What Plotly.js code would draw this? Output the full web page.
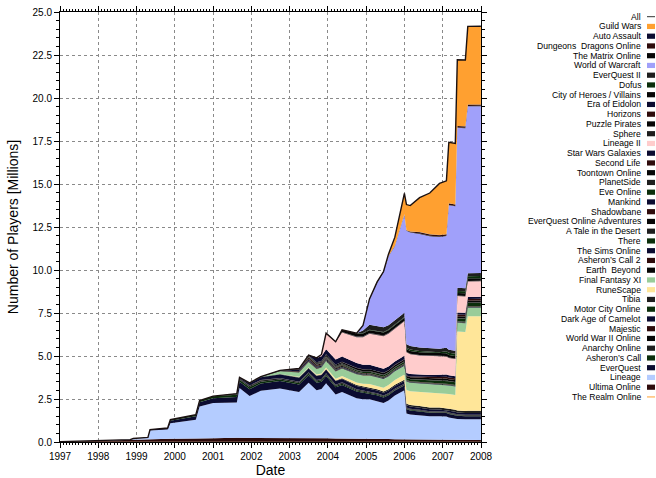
<!DOCTYPE html>
<html><head><meta charset="utf-8">
<script src="https://cdn.plot.ly/plotly-3.0.1.min.js"></script>
<style>html,body{margin:0;padding:0;background:#fff;}#chart{width:656px;height:478px;}</style>
</head><body><div id="chart"></div>
<script>
const dates = ['1997-01-01','1998-01-01','1998-11-01','1998-12-01','1999-04-20','1999-05-10','1999-10-25','1999-11-20','2000-07-20','2000-08-25',
 '2001-01-01','2001-08-15','2001-09-10','2001-12-15','2002-04-01','2002-10-01','2003-04-01','2003-07-01','2003-09-15','2003-11-01',
 '2003-12-15','2004-03-15','2004-05-15','2004-10-01','2004-12-01','2005-02-01','2005-04-15','2005-06-15','2005-08-01','2005-10-01',
 '2005-12-31','2006-01-20','2006-02-25','2006-05-25','2006-08-30','2006-12-01','2007-02-05','2007-02-28','2007-05-01','2007-05-20',
 '2007-08-05','2007-08-28','2007-12-31'];

const theRealmOnline = [0.02,0.02,0.02,0.02,0.02,0.02,0.02,0.02,0.02,0.02, 0.02,0.02,0.02,0.02,0.02,0.02,0.02,0.02,0.01,0.01, 0.01,0.01,0.01,0.01,0.01,0.01,0.01,0.01,0.01,0.01, 0.01,0.01,0.01,0.01,0.01,0.01,0.01,0.01,0.01,0.01, 0.01,0.01,0.01];
const ultimaOnline = [0,0.07,0.12,0.13,0.14,0.15,0.16,0.17,0.18,0.19, 0.2,0.22,0.22,0.23,0.24,0.24,0.24,0.23,0.22,0.22, 0.21,0.2,0.2,0.19,0.18,0.17,0.17,0.16,0.16,0.15, 0.15,0.15,0.14,0.14,0.13,0.13,0.12,0.12,0.12,0.12, 0.11,0.11,0.11];
const lineage = [0,0,0,0.05,0.1,0.5,0.55,0.9,1.1,1.85, 2.05,2.05,2.9,2.42,2.72,2.85,2.65,3.2,2.78,2.85, 3.2,2.55,2.7,2.35,2.3,2.3,2.2,2.1,2.25,2.55, 2.85,1.5,1.45,1.4,1.35,1.35,1.35,1.3,1.25,1.2, 1.2,1.2,1.2];
const everQuest = [0,0,0,0,0,0.05,0.08,0.15,0.2,0.25, 0.28,0.33,0.36,0.4,0.42,0.43,0.43,0.43,0.43,0.43, 0.42,0.42,0.41,0.39,0.38,0.36,0.34,0.32,0.3,0.28, 0.27,0.24,0.23,0.22,0.21,0.2,0.2,0.2,0.19,0.19, 0.18,0.18,0.18];
const asheronsCall = [0,0,0,0,0,0,0,0.05,0.08,0.1, 0.11,0.12,0.12,0.12,0.11,0.1,0.09,0.09,0.08,0.08, 0.08,0.07,0.07,0.06,0.06,0.05,0.05,0.05,0.05,0.04, 0.04,0.04,0.04,0.04,0.03,0.03,0.03,0.03,0.03,0.03, 0.03,0.03,0.03];
const anarchyOnline = [0,0,0,0,0,0,0,0,0,0, 0,0.03,0.05,0.06,0.06,0.06,0.06,0.06,0.06,0.06, 0.06,0.06,0.06,0.05,0.05,0.05,0.05,0.05,0.05,0.05, 0.05,0.04,0.04,0.04,0.04,0.04,0.04,0.04,0.04,0.04, 0.04,0.04,0.04];
const worldWarIIOnline = [0,0,0,0,0,0,0,0,0,0, 0,0.03,0.03,0.03,0.02,0.02,0.02,0.02,0.02,0.02, 0.02,0.02,0.02,0.02,0.02,0.02,0.02,0.02,0.02,0.02, 0.02,0.02,0.02,0.02,0.02,0.02,0.02,0.02,0.02,0.02, 0.02,0.02,0.02];
const majestic = [0,0,0,0,0,0,0,0,0,0, 0,0.01,0.01,0.01,0.01,0,0,0,0,0, 0,0,0,0,0,0,0,0,0,0, 0,0,0,0,0,0,0,0,0,0, 0,0,0];
const darkAgeOfCamelot = [0,0,0,0,0,0,0,0,0,0, 0,0,0.03,0.12,0.17,0.2,0.22,0.23,0.23,0.22, 0.22,0.21,0.2,0.19,0.18,0.17,0.16,0.16,0.15,0.15, 0.15,0.13,0.13,0.12,0.12,0.11,0.1,0.1,0.1,0.1, 0.09,0.09,0.09];
const motorCityOnline = [0,0,0,0,0,0,0,0,0,0, 0,0,0.01,0.02,0.02,0.02,0.02,0.02,0.01,0, 0,0,0,0,0,0,0,0,0,0, 0,0,0,0,0,0,0,0,0,0, 0,0,0];
const tibia = [0,0,0,0,0,0,0,0,0,0, 0,0,0,0,0.01,0.01,0.02,0.02,0.03,0.03, 0.03,0.04,0.04,0.05,0.05,0.06,0.06,0.07,0.07,0.08, 0.08,0.09,0.09,0.1,0.1,0.11,0.11,0.12,0.12,0.12, 0.12,0.13,0.13];
const runeScape = [0,0,0,0,0,0,0,0,0,0, 0,0,0,0,0,0.01,0.02,0.03,0.05,0.06, 0.08,0.1,0.12,0.15,0.16,0.18,0.2,0.22,0.25,0.28, 0.3,0.8,0.8,0.82,0.85,0.85,0.85,0.85,0.85,4.6, 4.6,5.5,5.5];
const finalFantasyXI = [0,0,0,0,0,0,0,0,0,0, 0,0,0,0,0,0.15,0.25,0.3,0.33,0.35, 0.38,0.42,0.45,0.48,0.48,0.5,0.5,0.5,0.5,0.5, 0.52,0.5,0.5,0.5,0.5,0.5,0.5,0.5,0.5,0.5, 0.5,0.5,0.5];
const earthBeyond = [0,0,0,0,0,0,0,0,0,0, 0,0,0,0,0,0.03,0.03,0.03,0.02,0.02, 0.02,0.02,0.02,0.01,0,0,0,0,0,0, 0,0,0,0,0,0,0,0,0,0, 0,0,0];
const asheronsCall2 = [0,0,0,0,0,0,0,0,0,0, 0,0,0,0,0,0.02,0.05,0.04,0.04,0.03, 0.03,0.03,0.02,0.02,0.02,0.02,0.02,0.01,0.01,0.01, 0,0,0,0,0,0,0,0,0,0, 0,0,0];
const theSimsOnline = [0,0,0,0,0,0,0,0,0,0, 0,0,0,0,0,0,0.08,0.07,0.06,0.06, 0.05,0.05,0.04,0.04,0.03,0.03,0.03,0.03,0.03,0.03, 0.03,0.02,0.02,0.02,0.02,0.02,0.02,0.02,0.02,0.02, 0.02,0.02,0.02];
const there = [0,0,0,0,0,0,0,0,0,0, 0,0,0,0,0,0,0,0,0,0.01, 0.015,0.015,0.015,0.015,0.015,0.015,0.015,0.015,0.015,0.015, 0.015,0.015,0.015,0.015,0.015,0.015,0.015,0.015,0.015,0.015, 0.015,0.015,0.015];
const aTaleInTheDesert = [0,0,0,0,0,0,0,0,0,0, 0,0,0,0,0,0,0.005,0.005,0.005,0.005, 0.005,0.005,0.005,0.005,0.005,0.005,0.005,0.005,0.005,0.005, 0.005,0.005,0.005,0.005,0.005,0.005,0.005,0.005,0.005,0.005, 0.005,0.005,0.005];
const everQuestOnlineAdventures = [0,0,0,0,0,0,0,0,0,0, 0,0,0,0,0,0,0.03,0.05,0.05,0.05, 0.05,0.05,0.05,0.04,0.04,0.04,0.04,0.04,0.04,0.04, 0.04,0.02,0.02,0.02,0.02,0.02,0.02,0.02,0.02,0.02, 0.02,0.02,0.02];
const shadowbane = [0,0,0,0,0,0,0,0,0,0, 0,0,0,0,0,0,0.03,0.08,0.07,0.06, 0.05,0.05,0.04,0.03,0.03,0.03,0.03,0.03,0.03,0.03, 0.03,0.02,0.02,0.02,0.02,0.02,0.02,0.02,0.02,0.02, 0.02,0.02,0.02];
const mankind = [0,0,0,0,0.005,0.005,0.005,0.005,0.005,0.005, 0.005,0.005,0.005,0.005,0.005,0.005,0.005,0.005,0.005,0.005, 0.005,0.005,0.005,0.005,0.005,0.005,0.005,0.005,0.005,0.005, 0.005,0.005,0.005,0.005,0.005,0.005,0.005,0.005,0.005,0.005, 0.005,0.005,0.005];
const eveOnline = [0,0,0,0,0,0,0,0,0,0, 0,0,0,0,0,0,0,0.02,0.03,0.03, 0.04,0.04,0.05,0.06,0.06,0.07,0.07,0.08,0.08,0.09, 0.1,0.11,0.11,0.12,0.13,0.14,0.15,0.15,0.16,0.17, 0.18,0.19,0.2];
const planetSide = [0,0,0,0,0,0,0,0,0,0, 0,0,0,0,0,0,0,0.05,0.06,0.05, 0.05,0.05,0.05,0.04,0.04,0.04,0.04,0.03,0.03,0.03, 0.03,0.02,0.02,0.02,0.02,0.02,0.02,0.02,0.02,0.02, 0.02,0.02,0.02];
const toontownOnline = [0,0,0,0,0,0,0,0,0,0, 0,0,0,0,0,0,0,0.02,0.04,0.05, 0.06,0.07,0.08,0.1,0.1,0.1,0.1,0.1,0.1,0.1, 0.1,0.1,0.1,0.1,0.1,0.1,0.11,0.11,0.11,0.11, 0.11,0.11,0.11];
const secondLife = [0,0,0,0,0,0,0,0,0,0, 0,0,0,0,0,0,0,0.005,0.01,0.01, 0.01,0.01,0.01,0.01,0.01,0.01,0.02,0.02,0.02,0.02, 0.02,0.03,0.04,0.05,0.06,0.08,0.1,0.1,0.1,0.1, 0.1,0.1,0.1];
const starWarsGalaxies = [0,0,0,0,0,0,0,0,0,0, 0,0,0,0,0,0,0,0.03,0.25,0.28, 0.3,0.3,0.3,0.28,0.27,0.26,0.24,0.23,0.22,0.2, 0.2,0.15,0.15,0.14,0.14,0.13,0.13,0.13,0.12,0.12, 0.12,0.12,0.12];
const lineageII = [0,0,0,0,0,0,0,0,0,0, 0,0,0,0,0,0,0,0,0,0.1, 0.9,1.0,1.4,1.5,1.6,1.8,1.85,1.9,1.9,1.9, 2.0,1.2,1.15,1.1,1.1,1.05,1.05,1.0,1.0,0.95, 0.95,0.9,0.9];
const sphere = [0,0,0,0,0,0,0,0,0,0, 0,0,0,0,0,0,0,0,0,0, 0.005,0.005,0.005,0.005,0.005,0.005,0.005,0.005,0.005,0.005, 0.005,0.005,0.005,0.005,0.005,0.005,0.005,0.005,0.005,0.005, 0.005,0.005,0.005];
const puzzlePirates = [0,0,0,0,0,0,0,0,0,0, 0,0,0,0,0,0,0,0,0,0, 0.01,0.01,0.01,0.01,0.01,0.01,0.01,0.01,0.01,0.01, 0.01,0.01,0.01,0.01,0.01,0.01,0.01,0.01,0.01,0.01, 0.01,0.01,0.01];
const horizons = [0,0,0,0,0,0,0,0,0,0, 0,0,0,0,0,0,0,0,0,0, 0.02,0.02,0.015,0.015,0.015,0.015,0.015,0.015,0.015,0.015, 0.015,0.01,0.01,0.01,0.01,0.01,0.01,0.01,0.01,0.01, 0.01,0.01,0.01];
const eraOfEidolon = [0,0,0,0,0,0,0,0,0,0, 0,0,0,0,0,0,0,0,0,0, 0,0,0.005,0.005,0.005,0.005,0.005,0.005,0.005,0.005, 0.005,0.005,0.005,0.005,0.005,0.005,0.005,0.005,0.005,0.005, 0.005,0.005,0.005];
const cityOfHeroes = [0,0,0,0,0,0,0,0,0,0, 0,0,0,0,0,0,0,0,0,0, 0,0,0.12,0.18,0.18,0.17,0.17,0.17,0.17,0.17, 0.17,0.16,0.16,0.16,0.16,0.16,0.15,0.15,0.15,0.15, 0.15,0.15,0.15];
const dofus = [0,0,0,0,0,0,0,0,0,0, 0,0,0,0,0,0,0,0,0,0, 0,0,0,0.01,0.02,0.02,0.03,0.03,0.04,0.04, 0.05,0.08,0.08,0.08,0.08,0.08,0.12,0.12,0.12,0.12, 0.12,0.12,0.12];
const everQuestII = [0,0,0,0,0,0,0,0,0,0, 0,0,0,0,0,0,0,0,0,0, 0,0,0,0,0.15,0.3,0.3,0.28,0.25,0.25, 0.25,0.2,0.2,0.2,0.2,0.2,0.2,0.18,0.18,0.18, 0.18,0.18,0.18];
const worldOfWarcraft = [0,0,0,0,0,0,0,0,0,0, 0,0,0,0,0,0,0,0,0,0, 0,0,0,0,0.3,1.5,2.5,3.2,4.0,4.3, 5.7,6.6,6.6,6.6,6.5,6.5,6.5,8.4,8.4,9.3, 9.3,9.7,9.7];
const theMatrixOnline = [0,0,0,0,0,0,0,0,0,0, 0,0,0,0,0,0,0,0,0,0, 0,0,0,0,0,0,0.05,0.04,0.03,0.03, 0.03,0.02,0.02,0.02,0.02,0.02,0.02,0.02,0.02,0.02, 0.02,0.02,0.02];
const dungeonsDragonsOnline = [0,0,0,0,0,0,0,0,0,0, 0,0,0,0,0,0,0,0,0,0, 0,0,0,0,0,0,0,0,0,0, 0,0,0.05,0.08,0.08,0.08,0.08,0.08,0.08,0.08, 0.08,0.08,0.08];
const autoAssault = [0,0,0,0,0,0,0,0,0,0, 0,0,0,0,0,0,0,0,0,0, 0,0,0,0,0,0,0,0,0,0, 0,0,0,0.01,0.01,0.01,0.01,0.01,0.01,0.01, 0.01,0,0];
const guildWars = [0,0,0,0,0,0,0,0,0,0, 0,0,0,0,0,0,0,0,0,0, 0,0,0,0,0,0,0,0,0.1,0.5, 1.2,1.5,1.5,2.0,2.4,3.0,3.1,3.55,3.55,3.85, 3.85,4.55,4.55];

// stacking order, bottom to top
const seriesNames = ['The Realm Online','Ultima Online','Lineage','EverQuest','Asheron\u2019s Call','Anarchy Online','World War II Online','Majestic','Dark Age of Camelot','Motor City Online','Tibia','RuneScape','Final Fantasy XI','Earth \u00a0Beyond','Asheron\u2019s Call 2','The Sims Online','There','A Tale in the Desert','EverQuest Online Adventures','Shadowbane','Mankind','Eve Online','PlanetSide','Toontown Online','Second Life','Star Wars Galaxies','Lineage II','Sphere','Puzzle Pirates','Horizons','Era of Eidolon','City of Heroes / Villains','Dofus','EverQuest II','World of Warcraft','The Matrix Online','Dungeons \u00a0Dragons Online','Auto Assault','Guild Wars'];
const seriesValues = [theRealmOnline,ultimaOnline,lineage,everQuest,asheronsCall,anarchyOnline,worldWarIIOnline,majestic,darkAgeOfCamelot,motorCityOnline,tibia,runeScape,finalFantasyXI,earthBeyond,asheronsCall2,theSimsOnline,there,aTaleInTheDesert,everQuestOnlineAdventures,shadowbane,mankind,eveOnline,planetSide,toontownOnline,secondLife,starWarsGalaxies,lineageII,sphere,puzzlePirates,horizons,eraOfEidolon,cityOfHeroes,dofus,everQuestII,worldOfWarcraft,theMatrixOnline,dungeonsDragonsOnline,autoAssault,guildWars];

// styles
const NAVY='#0b0b30', BROWN='#2e0b0b', BLACK='#060606', DGREY='#1e1e1e', DGREEN='#0b2e0b';
const seriesColors = ['#ffa030',BROWN,'#b4ccff',NAVY,DGREEN,DGREY,BLACK,BROWN,NAVY,DGREEN,DGREY,'#ffe699','#99cc99',BLACK,BROWN,NAVY,DGREEN,DGREY,BLACK,BROWN,NAVY,DGREEN,DGREY,BLACK,BROWN,NAVY,'#ffcccc',DGREY,BLACK,BROWN,NAVY,BLACK,DGREEN,DGREY,'#a0a0fa',BLACK,BROWN,NAVY,'#ffa030'];

const traces = seriesNames.map((n, k) => ({
  type: 'scatter', mode: 'lines', x: dates, y: seriesValues[k], name: n,
  stackgroup: 'all', line: {width: 0, color: seriesColors[k]}, fillcolor: seriesColors[k],
  hoverinfo: 'skip'
}));
const allPlayers = dates.map((d, i) => seriesValues.reduce((s, arr) => s + arr[i], 0));
traces.push({type: 'scatter', mode: 'lines', x: dates, y: allPlayers, name: 'All',
  line: {width: 1.4, color: '#1a1010'}, hoverinfo: 'skip'});

// legend (annotations + shapes: text right-aligned, swatch on the right)
const plotTop = 12, plotBottom = 442, plotLeft = 60, plotRight = 481;
const ph = plotBottom - plotTop, pw = plotRight - plotLeft;
const legendNames = ['All'].concat(seriesNames.slice().reverse());
const legendColors = ['#333'].concat(seriesColors.slice().reverse());
const annotations = [], shapes = [];
legendNames.forEach((n, i) => {
  const py = 16.7 + i * 9.75;
  const yp = (plotBottom - py) / ph;
  annotations.push({xref: 'paper', yref: 'paper', x: (642 - plotLeft) / pw, y: yp,
    xanchor: 'right', yanchor: 'middle', showarrow: false, text: n, borderpad: 0,
    font: {size: 8.6, color: '#000', family: 'Liberation Sans, Arial, sans-serif'}});
  const x0 = (647 - plotLeft) / pw, x1 = (655 - plotLeft) / pw;
  if (n === 'All' || n === 'The Realm Online') {
    shapes.push({type: 'line', xref: 'paper', yref: 'paper', x0: x0, x1: x1, y0: yp, y1: yp,
      line: {color: legendColors[i], width: 1, dash: n === 'All' ? 'solid' : 'dash'}});
  } else {
    shapes.push({type: 'rect', xref: 'paper', yref: 'paper', x0: x0, x1: x1,
      y0: yp - 2.6 / ph, y1: yp + 2.6 / ph, line: {width: 0}, fillcolor: legendColors[i]});
  }
});

const layout = {
  width: 656, height: 478,
  margin: {l: plotLeft, r: 656 - plotRight, t: plotTop, b: 478 - plotBottom},
  paper_bgcolor: '#fff', plot_bgcolor: '#fff', showlegend: false,
  font: {family: 'Liberation Sans, Arial, sans-serif', size: 10, color: '#000'},
  xaxis: {
    type: 'date', range: ['1997-01-01', '2008-01-01'], tick0: '1997-01-01', dtick: 'M12', tickformat: '%Y',
    ticks: 'outside', ticklen: 5, tickcolor: '#000', tickwidth: 1,
    showline: true, linecolor: '#000', linewidth: 1, mirror: 'allticks',
    showgrid: true, gridcolor: '#8a8a8a', griddash: 'dot', gridwidth: 1, zeroline: false,
    minor: {dtick: 'M1', ticklen: 2, tickcolor: '#000', ticks: 'outside', showgrid: false},
    tickfont: {size: 10}, automargin: false,
    title: {text: 'Date', font: {size: 14}, standoff: 2}
  },
  yaxis: {
    range: [0, 25], tick0: 0, dtick: 2.5, tickformat: '.1f',
    ticks: 'outside', ticklen: 5, tickcolor: '#000', tickwidth: 1,
    showline: true, linecolor: '#000', linewidth: 1, mirror: 'allticks',
    showgrid: true, gridcolor: '#8a8a8a', griddash: 'dot', gridwidth: 1, zeroline: false,
    minor: {dtick: 0.5, ticklen: 3, tickcolor: '#000', ticks: 'outside', showgrid: false},
    tickfont: {size: 10}, automargin: false,
    title: {text: 'Number of Players [Millions]', font: {size: 14}, standoff: 10}
  },
  annotations: annotations, shapes: shapes
};

Plotly.newPlot('chart', traces, layout, {staticPlot: true, displayModeBar: false});
</script>
</body></html>
